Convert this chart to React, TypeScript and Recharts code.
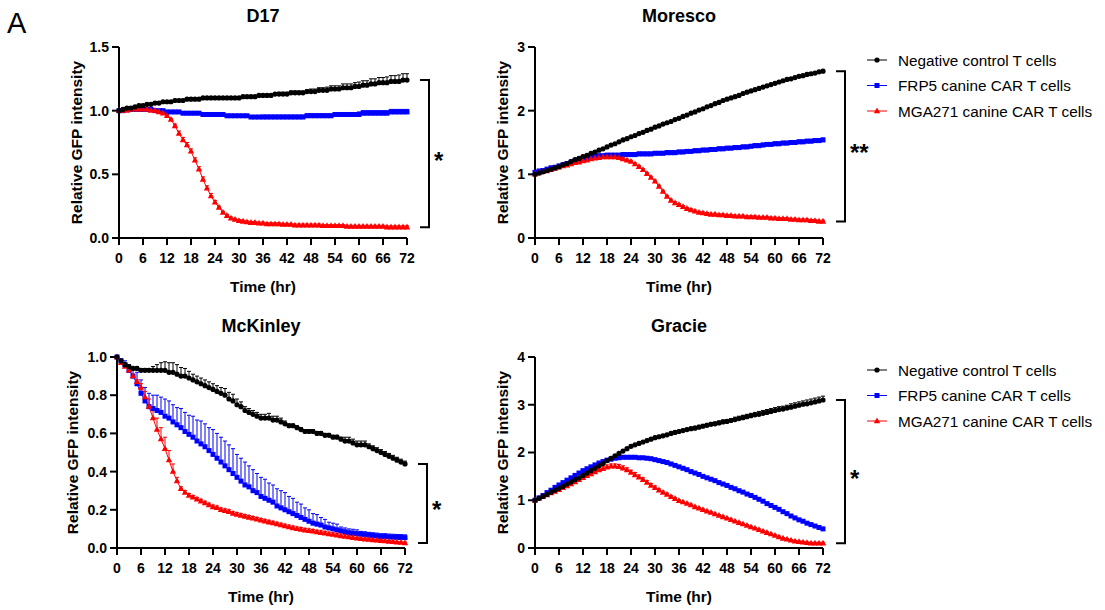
import React from "react";
import { ErrorBar, Line, LineChart, XAxis, YAxis } from "recharts";

const FONT = '"Liberation Sans", Arial, Helvetica, sans-serif';

// time grid, one reading per hour
const hours = Array.from({ length: 73 }, (_, i) => i);
const timeTicks = [0, 6, 12, 18, 24, 30, 36, 42, 48, 54, 60, 66, 72];

const seriesNames = [
  "Negative control T cells",
  "FRP5 canine CAR T cells",
  "MGA271 canine CAR T cells",
];
const seriesColors = ["#000000", "#0000ff", "#ff0000"];

// ---- D17 ----
const d17Neg = [
  1.00, 1.01, 1.02, 1.02, 1.03, 1.04, 1.04, 1.05, 1.05, 1.06, 1.06, 1.07,
  1.07, 1.07, 1.08, 1.08, 1.08, 1.09, 1.09, 1.09, 1.09, 1.10, 1.10, 1.10,
  1.10, 1.10, 1.10, 1.10, 1.10, 1.10, 1.10, 1.11, 1.11, 1.11, 1.11, 1.12,
  1.12, 1.12, 1.12, 1.13, 1.13, 1.13, 1.13, 1.14, 1.14, 1.14, 1.14, 1.15,
  1.15, 1.15, 1.16, 1.16, 1.16, 1.17, 1.17, 1.17, 1.18, 1.18, 1.18, 1.19,
  1.19, 1.20, 1.20, 1.21, 1.21, 1.22, 1.22, 1.22, 1.23, 1.23, 1.23, 1.24,
  1.24,
];
const d17NegErr = [
  0, 0.01, 0.01, 0.01, 0.01, 0.01, 0.01, 0.01, 0.01, 0.01, 0.01, 0.01,
  0.01, 0.01, 0.01, 0.01, 0.01, 0.01, 0.01, 0.01, 0.01, 0.01, 0.01, 0.01,
  0.01, 0.01, 0.01, 0.01, 0.01, 0.01, 0.01, 0.01, 0.01, 0.01, 0.01, 0.01,
  0.01, 0.01, 0.01, 0.01, 0.015, 0.015, 0.015, 0.015, 0.015, 0.015, 0.015, 0.015,
  0.02, 0.02, 0.02, 0.02, 0.025, 0.025, 0.025, 0.025, 0.03, 0.03, 0.03, 0.03,
  0.035, 0.035, 0.035, 0.04, 0.04, 0.04, 0.04, 0.045, 0.045, 0.045, 0.05, 0.05,
  0.05,
];
const d17Frp = [
  1.00, 1.00, 1.01, 1.01, 1.01, 1.01, 1.01, 1.01, 1.01, 1.00, 1.00, 1.00,
  0.99, 0.99, 0.99, 0.99, 0.98, 0.98, 0.98, 0.98, 0.98, 0.97, 0.97, 0.97,
  0.97, 0.97, 0.97, 0.96, 0.96, 0.96, 0.96, 0.96, 0.96, 0.95, 0.95, 0.95,
  0.95, 0.95, 0.95, 0.95, 0.95, 0.95, 0.95, 0.95, 0.95, 0.95, 0.95, 0.96,
  0.96, 0.96, 0.96, 0.96, 0.96, 0.96, 0.97, 0.97, 0.97, 0.97, 0.97, 0.97,
  0.97, 0.98, 0.98, 0.98, 0.98, 0.98, 0.98, 0.98, 0.99, 0.99, 0.99, 0.99,
  0.99,
];
const d17FrpErr = [
  0, 0.01, 0.01, 0.01, 0.01, 0.01, 0.01, 0.01, 0.01, 0.01, 0.01, 0.01,
  0.01, 0.01, 0.01, 0.01, 0.01, 0.01, 0.01, 0.01, 0.01, 0.01, 0.01, 0.01,
  0.01, 0.01, 0.01, 0.01, 0.01, 0.01, 0.01, 0.01, 0.01, 0.01, 0.01, 0.01,
  0.015, 0.015, 0.015, 0.015, 0.015, 0.015, 0.015, 0.015, 0.015, 0.015, 0.015, 0.015,
  0.015, 0.015, 0.015, 0.015, 0.015, 0.015, 0.015, 0.015, 0.015, 0.015, 0.015, 0.015,
  0.02, 0.02, 0.02, 0.02, 0.02, 0.02, 0.02, 0.02, 0.02, 0.02, 0.02, 0.02,
  0.02,
];
const d17Mga = [
  1.00, 1.00, 1.00, 1.01, 1.01, 1.01, 1.01, 1.01, 1.00, 1.00, 0.99, 0.98,
  0.96, 0.93, 0.88, 0.82, 0.77, 0.73, 0.68, 0.61, 0.54, 0.46, 0.39, 0.33,
  0.28, 0.24, 0.20, 0.175, 0.155, 0.145, 0.135, 0.13, 0.125, 0.12, 0.12, 0.115,
  0.115, 0.11, 0.11, 0.11, 0.11, 0.105, 0.105, 0.105, 0.10, 0.10, 0.10, 0.10,
  0.10, 0.10, 0.10, 0.095, 0.095, 0.095, 0.095, 0.095, 0.095, 0.09, 0.09, 0.09,
  0.09, 0.09, 0.09, 0.09, 0.09, 0.09, 0.09, 0.085, 0.085, 0.085, 0.085, 0.085,
  0.085,
];
const d17MgaErr = [
  0, 0.01, 0.01, 0.01, 0.01, 0.01, 0.01, 0.01, 0.01, 0.01, 0.01, 0.01,
  0.01, 0.01, 0.015, 0.02, 0.02, 0.02, 0.02, 0.02, 0.02, 0.02, 0.02, 0.02,
  0.015, 0.01, 0.01, 0.01, 0.01, 0.01, 0.01, 0.01, 0.01, 0.01, 0.01, 0.01,
  0.01, 0.01, 0.01, 0.01, 0.01, 0.01, 0.01, 0.01, 0.01, 0.01, 0.01, 0.01,
  0.01, 0.01, 0.01, 0.01, 0.01, 0.01, 0.01, 0.01, 0.01, 0.01, 0.01, 0.01,
  0.01, 0.01, 0.01, 0.01, 0.01, 0.01, 0.01, 0.01, 0.01, 0.01, 0.01, 0.01,
  0.01,
];

// ---- Moresco ----
const moNeg = [
  1.00, 1.02, 1.04, 1.06, 1.08, 1.10, 1.12, 1.15, 1.17, 1.20, 1.23, 1.25,
  1.28, 1.30, 1.33, 1.35, 1.38, 1.40, 1.43, 1.46, 1.48, 1.51, 1.54, 1.56,
  1.59, 1.61, 1.64, 1.66, 1.69, 1.71, 1.74, 1.76, 1.79, 1.81, 1.83, 1.86,
  1.88, 1.91, 1.93, 1.96, 1.98, 2.01, 2.03, 2.06, 2.08, 2.11, 2.13, 2.16,
  2.18, 2.20, 2.22, 2.24, 2.27, 2.29, 2.31, 2.33, 2.35, 2.37, 2.39, 2.41,
  2.43, 2.45, 2.47, 2.49, 2.50, 2.52, 2.54, 2.55, 2.57, 2.58, 2.59, 2.61,
  2.62,
];
const moNegErr = [
  0, 0.02, 0.02, 0.02, 0.02, 0.02, 0.02, 0.02, 0.02, 0.02, 0.02, 0.02,
  0.02, 0.02, 0.02, 0.02, 0.02, 0.02, 0.02, 0.02, 0.02, 0.02, 0.02, 0.02,
  0.02, 0.02, 0.02, 0.02, 0.02, 0.02, 0.02, 0.02, 0.02, 0.02, 0.02, 0.02,
  0.02, 0.02, 0.02, 0.02, 0.02, 0.02, 0.02, 0.02, 0.02, 0.02, 0.02, 0.02,
  0.02, 0.02, 0.02, 0.02, 0.02, 0.02, 0.02, 0.02, 0.02, 0.02, 0.02, 0.02,
  0.02, 0.02, 0.02, 0.02, 0.02, 0.02, 0.02, 0.02, 0.02, 0.02, 0.02, 0.02,
  0.02,
];
const moFrp = [
  1.03, 1.05, 1.06, 1.08, 1.10, 1.11, 1.13, 1.15, 1.17, 1.19, 1.21, 1.23,
  1.25, 1.26, 1.27, 1.28, 1.29, 1.29, 1.30, 1.30, 1.30, 1.30, 1.31, 1.31,
  1.31, 1.31, 1.32, 1.32, 1.32, 1.32, 1.33, 1.33, 1.33, 1.34, 1.34, 1.34,
  1.35, 1.35, 1.36, 1.36, 1.37, 1.37, 1.38, 1.38, 1.39, 1.39, 1.40, 1.40,
  1.41, 1.41, 1.42, 1.42, 1.43, 1.43, 1.44, 1.45, 1.45, 1.46, 1.47, 1.47,
  1.48, 1.48, 1.49, 1.49, 1.50, 1.50, 1.51, 1.51, 1.52, 1.52, 1.53, 1.53,
  1.54,
];
const moFrpErr = [
  0, 0.03, 0.03, 0.03, 0.03, 0.03, 0.03, 0.03, 0.03, 0.03, 0.03, 0.03,
  0.03, 0.03, 0.03, 0.03, 0.03, 0.03, 0.03, 0.03, 0.03, 0.03, 0.03, 0.03,
  0.03, 0.03, 0.03, 0.03, 0.03, 0.03, 0.03, 0.03, 0.03, 0.03, 0.03, 0.03,
  0.03, 0.03, 0.03, 0.03, 0.03, 0.03, 0.03, 0.03, 0.03, 0.03, 0.03, 0.03,
  0.03, 0.03, 0.03, 0.03, 0.03, 0.03, 0.03, 0.03, 0.03, 0.03, 0.03, 0.03,
  0.03, 0.03, 0.03, 0.03, 0.03, 0.03, 0.03, 0.03, 0.03, 0.03, 0.03, 0.03,
  0.03,
];
const moMga = [
  1.00, 1.02, 1.04, 1.05, 1.07, 1.09, 1.11, 1.13, 1.14, 1.16, 1.18, 1.19,
  1.21, 1.22, 1.24, 1.25, 1.26, 1.27, 1.27, 1.27, 1.27, 1.26, 1.24, 1.22,
  1.20, 1.16, 1.12, 1.07, 1.01, 0.95, 0.89, 0.81, 0.73, 0.65, 0.59, 0.55,
  0.52, 0.49, 0.46, 0.44, 0.42, 0.40, 0.39, 0.38, 0.37, 0.37, 0.36, 0.36,
  0.35, 0.35, 0.34, 0.34, 0.34, 0.33, 0.33, 0.33, 0.32, 0.32, 0.32, 0.31,
  0.31, 0.30, 0.30, 0.30, 0.29, 0.29, 0.28, 0.28, 0.28, 0.27, 0.27, 0.26,
  0.26,
];
const moMgaErr = [
  0, 0.02, 0.02, 0.02, 0.02, 0.02, 0.02, 0.02, 0.02, 0.02, 0.02, 0.02,
  0.02, 0.02, 0.02, 0.02, 0.02, 0.02, 0.02, 0.02, 0.02, 0.02, 0.02, 0.02,
  0.02, 0.02, 0.02, 0.02, 0.02, 0.02, 0.02, 0.02, 0.02, 0.02, 0.02, 0.02,
  0.02, 0.02, 0.02, 0.02, 0.02, 0.02, 0.02, 0.02, 0.02, 0.02, 0.02, 0.02,
  0.02, 0.02, 0.02, 0.02, 0.02, 0.02, 0.02, 0.02, 0.02, 0.02, 0.02, 0.02,
  0.02, 0.02, 0.02, 0.02, 0.02, 0.02, 0.02, 0.02, 0.02, 0.02, 0.02, 0.02,
  0.02,
];

// ---- McKinley ----
const mkNeg = [
  1.00, 0.98, 0.96, 0.95, 0.94, 0.94, 0.93, 0.93, 0.93, 0.93, 0.93, 0.93,
  0.93, 0.92, 0.92, 0.91, 0.90, 0.90, 0.89, 0.88, 0.87, 0.86, 0.85, 0.84,
  0.83, 0.82, 0.81, 0.80, 0.78, 0.77, 0.75, 0.74, 0.72, 0.71, 0.70, 0.69,
  0.68, 0.68, 0.68, 0.67, 0.67, 0.66, 0.65, 0.64, 0.64, 0.63, 0.62, 0.61,
  0.61, 0.61, 0.60, 0.60, 0.59, 0.59, 0.58, 0.58, 0.57, 0.56, 0.56, 0.55,
  0.54, 0.54, 0.54, 0.53, 0.52, 0.51, 0.50, 0.49, 0.48, 0.47, 0.46, 0.45,
  0.44,
];
const mkNegErr = [
  0, 0.005, 0.005, 0.005, 0.005, 0.01, 0.01, 0.01, 0.01, 0.02, 0.03, 0.04,
  0.045, 0.05, 0.05, 0.05, 0.045, 0.04, 0.035, 0.03, 0.03, 0.03, 0.03, 0.03,
  0.03, 0.03, 0.03, 0.035, 0.035, 0.035, 0.03, 0.025, 0.02, 0.02, 0.02, 0.02,
  0.02, 0.02, 0.025, 0.02, 0.02, 0.02, 0.015, 0.01, 0.01, 0.01, 0.01, 0.01,
  0.01, 0.01, 0.01, 0.01, 0.01, 0.01, 0.01, 0.01, 0.01, 0.02, 0.02, 0.02,
  0.02, 0.02, 0.02, 0.015, 0.015, 0.015, 0.015, 0.015, 0.015, 0.015, 0.015, 0.015,
  0.015,
];
const mkFrp = [
  1.00, 0.98, 0.96, 0.93, 0.90, 0.86, 0.81, 0.77, 0.74, 0.73, 0.72, 0.71,
  0.69, 0.68, 0.66, 0.645, 0.63, 0.61, 0.595, 0.58, 0.56, 0.545, 0.53, 0.51,
  0.49, 0.47, 0.45, 0.43, 0.41, 0.39, 0.37, 0.35, 0.33, 0.32, 0.30, 0.29,
  0.27, 0.26, 0.25, 0.24, 0.22, 0.21, 0.20, 0.19, 0.18, 0.17, 0.16, 0.15,
  0.14, 0.13, 0.125, 0.12, 0.11, 0.105, 0.10, 0.095, 0.09, 0.085, 0.08, 0.078,
  0.075, 0.072, 0.07, 0.067, 0.065, 0.063, 0.06, 0.06, 0.058, 0.057, 0.056, 0.055,
  0.054,
];
const mkFrpErr = [
  0, 0.01, 0.02, 0.03, 0.04, 0.06, 0.07, 0.07, 0.07, 0.07, 0.08, 0.08,
  0.09, 0.09, 0.09, 0.09, 0.10, 0.10, 0.10, 0.11, 0.11, 0.12, 0.12, 0.12,
  0.13, 0.13, 0.13, 0.13, 0.13, 0.13, 0.12, 0.12, 0.12, 0.11, 0.11, 0.10,
  0.10, 0.10, 0.09, 0.09, 0.09, 0.09, 0.09, 0.08, 0.08, 0.07, 0.07, 0.06,
  0.06, 0.05, 0.05, 0.04, 0.04, 0.03, 0.03, 0.03, 0.02, 0.02, 0.02, 0.02,
  0.02, 0.015, 0.015, 0.015, 0.015, 0.015, 0.015, 0.015, 0.015, 0.015, 0.015, 0.015,
  0.015,
];
const mkMga = [
  1.00, 0.97, 0.95, 0.93, 0.90, 0.87, 0.84, 0.79, 0.74, 0.68, 0.62, 0.57,
  0.52, 0.46, 0.40, 0.35, 0.31, 0.29, 0.275, 0.265, 0.255, 0.245, 0.235, 0.225,
  0.215, 0.21, 0.20, 0.195, 0.19, 0.18, 0.175, 0.17, 0.165, 0.16, 0.155, 0.15,
  0.145, 0.14, 0.135, 0.13, 0.125, 0.12, 0.115, 0.11, 0.105, 0.10, 0.097, 0.093,
  0.09, 0.087, 0.083, 0.08, 0.077, 0.073, 0.07, 0.067, 0.063, 0.06, 0.057, 0.054,
  0.051, 0.048, 0.046, 0.044, 0.042, 0.04, 0.038, 0.036, 0.034, 0.032, 0.03, 0.028,
  0.026,
];
const mkMgaErr = [
  0, 0.01, 0.01, 0.01, 0.01, 0.01, 0.02, 0.03, 0.04, 0.05, 0.06, 0.06,
  0.06, 0.05, 0.04, 0.02, 0.01, 0.01, 0.01, 0.01, 0.01, 0.01, 0.01, 0.01,
  0.01, 0.01, 0.01, 0.01, 0.01, 0.01, 0.01, 0.01, 0.01, 0.01, 0.01, 0.01,
  0.01, 0.01, 0.01, 0.01, 0.01, 0.01, 0.01, 0.01, 0.01, 0.01, 0.01, 0.01,
  0.01, 0.01, 0.01, 0.01, 0.01, 0.01, 0.01, 0.01, 0.01, 0.01, 0.01, 0.01,
  0.005, 0.005, 0.005, 0.005, 0.005, 0.005, 0.005, 0.005, 0.005, 0.005, 0.005, 0.005,
  0.005,
];

// ---- Gracie ----
const grNeg = [
  1.00, 1.04, 1.08, 1.12, 1.17, 1.21, 1.25, 1.29, 1.34, 1.38, 1.43, 1.47,
  1.52, 1.57, 1.62, 1.67, 1.72, 1.77, 1.83, 1.88, 1.93, 1.98, 2.03, 2.08,
  2.13, 2.16, 2.19, 2.22, 2.25, 2.28, 2.31, 2.33, 2.35, 2.37, 2.40, 2.42,
  2.44, 2.46, 2.48, 2.50, 2.51, 2.53, 2.55, 2.57, 2.59, 2.60, 2.62, 2.64,
  2.65, 2.67, 2.69, 2.71, 2.73, 2.75, 2.77, 2.79, 2.80, 2.82, 2.84, 2.86,
  2.88, 2.90, 2.91, 2.93, 2.95, 2.97, 2.99, 3.01, 3.02, 3.04, 3.06, 3.08,
  3.10,
];
const grNegErr = [
  0, 0.02, 0.02, 0.02, 0.02, 0.02, 0.02, 0.02, 0.02, 0.02, 0.02, 0.02,
  0.02, 0.02, 0.02, 0.02, 0.02, 0.02, 0.02, 0.02, 0.02, 0.02, 0.02, 0.02,
  0.03, 0.03, 0.03, 0.03, 0.03, 0.03, 0.03, 0.03, 0.03, 0.03, 0.03, 0.03,
  0.03, 0.03, 0.03, 0.03, 0.04, 0.04, 0.04, 0.04, 0.04, 0.04, 0.04, 0.04,
  0.04, 0.04, 0.05, 0.05, 0.05, 0.05, 0.05, 0.05, 0.06, 0.06, 0.06, 0.06,
  0.06, 0.06, 0.06, 0.06, 0.07, 0.07, 0.07, 0.07, 0.08, 0.08, 0.08, 0.08,
  0.08,
];
const grFrp = [
  1.00, 1.05, 1.10, 1.16, 1.21, 1.27, 1.32, 1.37, 1.42, 1.47, 1.52, 1.57,
  1.62, 1.66, 1.70, 1.74, 1.78, 1.81, 1.84, 1.86, 1.88, 1.89, 1.90, 1.90,
  1.90, 1.90, 1.89, 1.89, 1.88, 1.87, 1.85, 1.83, 1.81, 1.79, 1.76, 1.73,
  1.70, 1.67, 1.64, 1.60, 1.57, 1.54, 1.50, 1.47, 1.44, 1.41, 1.37, 1.34,
  1.31, 1.27, 1.24, 1.20, 1.17, 1.13, 1.10, 1.06, 1.02, 0.98, 0.93, 0.89,
  0.85, 0.81, 0.76, 0.72, 0.67, 0.63, 0.59, 0.56, 0.52, 0.49, 0.46, 0.43,
  0.40,
];
const grFrpErr = [
  0, 0.02, 0.02, 0.02, 0.02, 0.02, 0.02, 0.02, 0.02, 0.02, 0.02, 0.02,
  0.02, 0.02, 0.02, 0.02, 0.02, 0.02, 0.02, 0.02, 0.02, 0.02, 0.02, 0.02,
  0.02, 0.02, 0.02, 0.02, 0.02, 0.02, 0.02, 0.02, 0.02, 0.02, 0.02, 0.02,
  0.02, 0.02, 0.02, 0.02, 0.02, 0.02, 0.02, 0.02, 0.02, 0.02, 0.02, 0.02,
  0.02, 0.02, 0.02, 0.02, 0.02, 0.02, 0.02, 0.02, 0.02, 0.02, 0.02, 0.02,
  0.02, 0.02, 0.02, 0.02, 0.02, 0.02, 0.02, 0.02, 0.02, 0.02, 0.02, 0.02,
  0.02,
];
const grMga = [
  1.00, 1.04, 1.07, 1.11, 1.15, 1.18, 1.22, 1.26, 1.30, 1.34, 1.38, 1.43,
  1.47, 1.51, 1.55, 1.59, 1.63, 1.66, 1.69, 1.71, 1.71, 1.70, 1.67, 1.63,
  1.58, 1.53, 1.48, 1.43, 1.37, 1.31, 1.26, 1.21, 1.16, 1.12, 1.07, 1.03,
  0.99, 0.96, 0.93, 0.90, 0.86, 0.83, 0.80, 0.77, 0.74, 0.71, 0.68, 0.65,
  0.62, 0.59, 0.56, 0.53, 0.50, 0.47, 0.44, 0.41, 0.38, 0.35, 0.32, 0.29,
  0.26, 0.23, 0.20, 0.18, 0.16, 0.14, 0.13, 0.12, 0.11, 0.10, 0.10, 0.10,
  0.10,
];
const grMgaErr = [
  0, 0.02, 0.02, 0.02, 0.02, 0.02, 0.02, 0.02, 0.02, 0.02, 0.02, 0.02,
  0.03, 0.03, 0.03, 0.04, 0.04, 0.05, 0.05, 0.05, 0.05, 0.05, 0.05, 0.05,
  0.05, 0.05, 0.05, 0.04, 0.04, 0.04, 0.04, 0.03, 0.03, 0.03, 0.03, 0.03,
  0.02, 0.02, 0.02, 0.02, 0.02, 0.02, 0.02, 0.02, 0.02, 0.02, 0.02, 0.02,
  0.02, 0.02, 0.02, 0.02, 0.02, 0.02, 0.02, 0.02, 0.02, 0.02, 0.02, 0.02,
  0.02, 0.02, 0.02, 0.02, 0.02, 0.02, 0.02, 0.02, 0.02, 0.02, 0.02, 0.02,
  0.02,
];

const PLOT_W = 288;
const PLOT_H = 191;
const AXIS_W = 60;
const TOP_PAD = 10;
const RIGHT_PAD = 12;
const X_AXIS_H = 40;

type Shape = "circle" | "square" | "triangle";
const shapes: Shape[] = ["circle", "square", "triangle"];

function Marker({ shape, cx, cy, color }: { shape: Shape; cx: number; cy: number; color: string }) {
  if (cx == null || cy == null) return null;
  if (shape === "circle") return <circle cx={cx} cy={cy} r={2.6} fill={color} />;
  if (shape === "square")
    return <rect x={cx - 2.5} y={cy - 2.5} width={5} height={5} fill={color} />;
  return (
    <polygon
      points={`${cx},${cy - 3.6} ${cx + 3.2},${cy + 2.2} ${cx - 3.2},${cy + 2.2}`}
      fill={color}
    />
  );
}

interface PanelProps {
  title: string;
  x0: number;
  y0: number;
  yMax: number;
  yTicks: number[];
  decimals: number;
  yLabelGap: number;
  neg: number[];
  negErr: number[];
  frp: number[];
  frpErr: number[];
  mga: number[];
  mgaErr: number[];
  stars: string;
  legend?: boolean;
}

const Panel = (p: PanelProps) => {
  const data = hours.map((t, i) => ({
    t,
    neg: p.neg[i],
    negErr: [0, p.negErr[i]],
    frp: p.frp[i],
    frpErr: [0, p.frpErr[i]],
    mga: p.mga[i],
    mgaErr: [0, p.mgaErr[i]],
  }));

  const yPix = (v: number) => p.y0 + PLOT_H * (1 - v / p.yMax);
  const bx = p.x0 + PLOT_W + 22;
  const bTop = yPix(p.neg[p.neg.length - 1]);
  const bBot = yPix(p.mga[p.mga.length - 1]);
  const cx = p.x0 + PLOT_W / 2;
  const cy = p.y0 + PLOT_H / 2;

  const tickStyle = { fill: "#000", fontSize: 14, fontWeight: 700, fontFamily: FONT };
  const keys = ["frp", "mga", "neg"];
  const order = [1, 2, 0];

  return (
    <>
      <div style={{ position: "absolute", left: p.x0 - AXIS_W, top: p.y0 - TOP_PAD }}>
        <LineChart
          width={AXIS_W + PLOT_W + RIGHT_PAD}
          height={TOP_PAD + PLOT_H + X_AXIS_H}
          data={data}
          margin={{ top: TOP_PAD, right: RIGHT_PAD, bottom: 0, left: 0 }}
        >
          <XAxis
            dataKey="t"
            type="number"
            domain={[0, 72]}
            ticks={timeTicks}
            interval={0}
            height={X_AXIS_H}
            tick={tickStyle}
            tickSize={7}
            tickMargin={8}
            axisLine={{ stroke: "#000", strokeWidth: 2 }}
            tickLine={{ stroke: "#000", strokeWidth: 2 }}
          />
          <YAxis
            type="number"
            domain={[0, p.yMax]}
            ticks={p.yTicks}
            interval={0}
            width={AXIS_W}
            tick={tickStyle}
            tickSize={7}
            tickMargin={3}
            tickFormatter={(v: number) => v.toFixed(p.decimals)}
            axisLine={{ stroke: "#000", strokeWidth: 2 }}
            tickLine={{ stroke: "#000", strokeWidth: 2 }}
          />
          {order.map((si, k) => (
            <Line
              key={keys[k]}
              dataKey={keys[k]}
              type="linear"
              stroke={seriesColors[si]}
              strokeWidth={1}
              isAnimationActive={false}
              activeDot={false}
              dot={(d: any) => (
                <Marker
                  key={`${keys[k]}-${d.index}`}
                  shape={shapes[si]}
                  cx={d.cx}
                  cy={d.cy}
                  color={seriesColors[si]}
                />
              )}
            >
              <ErrorBar
                dataKey={`${keys[k]}Err`}
                direction="y"
                width={2}
                stroke={seriesColors[si]}
                strokeWidth={1}
                isAnimationActive={false}
              />
            </Line>
          ))}
        </LineChart>
      </div>
      <svg
        width={1105}
        height={610}
        style={{ position: "absolute", left: 0, top: 0, pointerEvents: "none" }}
        fontFamily={FONT}
      >
        <text x={cx} y={p.y0 - 31} textAnchor="middle" dominantBaseline="central" fontSize={18} fontWeight={700}>
          {p.title}
        </text>
        <text x={cx} y={p.y0 + PLOT_H + 48} textAnchor="middle" dominantBaseline="central" fontSize={15.5} fontWeight={700}>
          Time (hr)
        </text>
        <text
          x={p.x0 - p.yLabelGap}
          y={cy}
          textAnchor="middle"
          dominantBaseline="central"
          fontSize={15.5}
          fontWeight={700}
          transform={`rotate(-90 ${p.x0 - p.yLabelGap} ${cy})`}
        >
          Relative GFP intensity
        </text>
        <path
          d={`M${bx - 9},${bTop} H${bx} V${bBot} H${bx - 9}`}
          fill="none"
          stroke="#000"
          strokeWidth={2}
        />
        <text x={bx + 5} y={(bTop + bBot) / 2 + 15} fontSize={24} fontWeight={700}>
          {p.stars}
        </text>
        {p.legend &&
          seriesNames.map((name, i) => {
            const ly = p.y0 + 13 + i * 25.5;
            return (
              <g key={name}>
                <line x1={867} x2={887} y1={ly} y2={ly} stroke={seriesColors[i]} strokeWidth={1} />
                <Marker shape={shapes[i]} cx={877} cy={ly} color={seriesColors[i]} />
                <text x={898} y={ly} dominantBaseline="central" fontSize={15.3}>
                  {name}
                </text>
              </g>
            );
          })}
      </svg>
    </>
  );
};

export default function App() {
  return (
    <div
      style={{
        position: "absolute",
        left: 0,
        top: 0,
        width: 1105,
        height: 610,
        background: "#fff",
        overflow: "hidden",
      }}
    >
      <svg width={60} height={50} style={{ position: "absolute", left: 0, top: 0 }}>
        <text x={7} y={33} fontFamily={FONT} fontSize={29}>
          A
        </text>
      </svg>
      <Panel
        title="D17"
        x0={119}
        y0={47}
        yMax={1.5}
        yTicks={[0, 0.5, 1, 1.5]}
        decimals={1}
        yLabelGap={43}
        neg={d17Neg}
        negErr={d17NegErr}
        frp={d17Frp}
        frpErr={d17FrpErr}
        mga={d17Mga}
        mgaErr={d17MgaErr}
        stars="*"
      />
      <Panel
        title="Moresco"
        x0={535}
        y0={47}
        yMax={3}
        yTicks={[0, 1, 2, 3]}
        decimals={0}
        yLabelGap={33}
        neg={moNeg}
        negErr={moNegErr}
        frp={moFrp}
        frpErr={moFrpErr}
        mga={moMga}
        mgaErr={moMgaErr}
        stars="**"
        legend
      />
      <Panel
        title="McKinley"
        x0={117}
        y0={357}
        yMax={1}
        yTicks={[0, 0.2, 0.4, 0.6, 0.8, 1]}
        decimals={1}
        yLabelGap={45}
        neg={mkNeg}
        negErr={mkNegErr}
        frp={mkFrp}
        frpErr={mkFrpErr}
        mga={mkMga}
        mgaErr={mkMgaErr}
        stars="*"
      />
      <Panel
        title="Gracie"
        x0={535}
        y0={357}
        yMax={4}
        yTicks={[0, 1, 2, 3, 4]}
        decimals={0}
        yLabelGap={33}
        neg={grNeg}
        negErr={grNegErr}
        frp={grFrp}
        frpErr={grFrpErr}
        mga={grMga}
        mgaErr={grMgaErr}
        stars="*"
        legend
      />
    </div>
  );
}
